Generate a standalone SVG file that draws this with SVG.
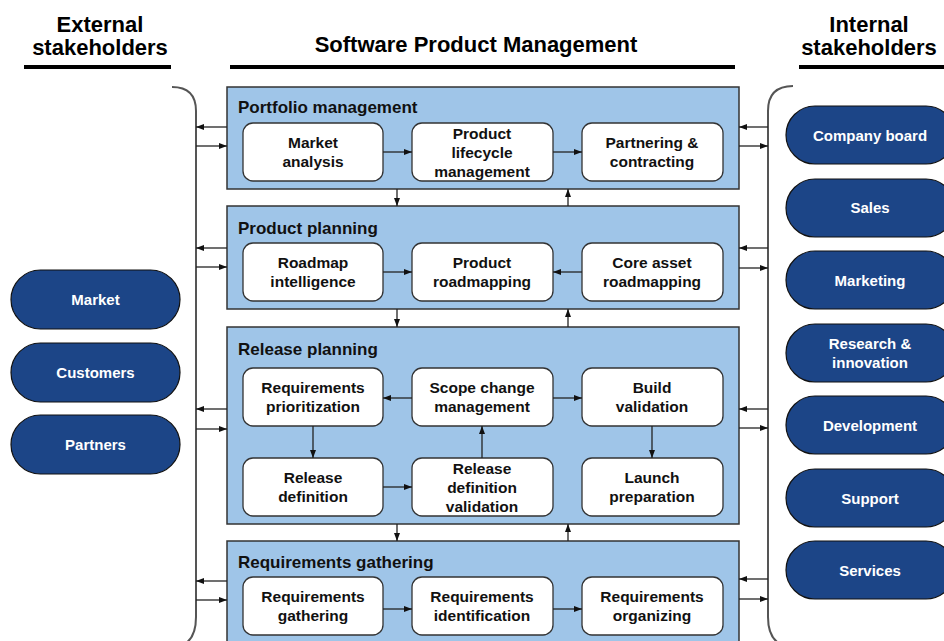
<svg xmlns="http://www.w3.org/2000/svg" width="944" height="641" viewBox="0 0 944 641">
<defs>
<marker id="ah" viewBox="0 0 8 6" refX="8" refY="3" markerWidth="8" markerHeight="6" markerUnits="userSpaceOnUse" orient="auto">
<path d="M0,0 L8,3 L0,6 z" fill="#111"/>
</marker>
</defs>
<style>
text{font-family:"Liberation Sans",Arial,sans-serif;font-weight:bold;text-anchor:middle}
.hd{font-size:22px;fill:#000}
.rule{stroke:#000;stroke-width:4}
.brk{fill:none;stroke:#555;stroke-width:2}
.sec{fill:#9fc5e8;stroke:#333;stroke-width:1.5}
.st{font-size:17px;fill:#111;text-anchor:start}
.box{fill:#fff;stroke:#333;stroke-width:1.3}
.bt{font-size:15.5px;fill:#111}
.pill{fill:#1c4587;stroke:#111;stroke-width:1.2}
.pt{font-size:15px;fill:#fff}
.c line,.c path{stroke:#222;stroke-width:1.3;fill:none;marker-end:url(#ah)}
</style>
<rect width="944" height="641" fill="#fff"/>

<g id="headings">
<text class="hd" x="100" y="32">External</text>
<text class="hd" x="100" y="55">stakeholders</text>
<line class="rule" x1="24" y1="67" x2="171" y2="67"/>
<text class="hd" x="476" y="52">Software Product Management</text>
<line class="rule" x1="230" y1="67" x2="735" y2="67"/>
<text class="hd" x="869" y="32">Internal</text>
<text class="hd" x="869" y="55">stakeholders</text>
<line class="rule" x1="799" y1="67" x2="944" y2="67"/>
</g>

<g id="brackets">
<path class="brk" d="M172,87 Q196,87 196,111 L196,617 Q196,641 180,646"/>
<path class="brk" d="M793,86 Q768,86 768,111 L768,617 Q768,641 785,646"/>
</g>

<g id="sec-portfolio">
<rect class="sec" x="227" y="87" width="512" height="102"/>
<text class="st" x="238" y="113">Portfolio management</text>
</g>
<g id="sec-planning">
<rect class="sec" x="227" y="206" width="512" height="103"/>
<text class="st" x="238" y="234">Product planning</text>
</g>
<g id="sec-release">
<rect class="sec" x="227" y="327" width="512" height="197"/>
<text class="st" x="238" y="355">Release planning</text>
</g>
<g id="sec-requirements">
<rect class="sec" x="227" y="541" width="512" height="110"/>
<text class="st" x="238" y="568">Requirements gathering</text>
</g>

<g id="market-analysis"><rect class="box" x="243" y="123" width="140" height="58" rx="10"/>
<text class="bt" x="313" y="148">Market</text><text class="bt" x="313" y="167">analysis</text></g>
<g id="product-lifecycle"><rect class="box" x="412" y="123" width="141" height="58" rx="10"/>
<text class="bt" x="482" y="139">Product</text><text class="bt" x="482" y="158">lifecycle</text><text class="bt" x="482" y="177">management</text></g>
<g id="partnering"><rect class="box" x="582" y="123" width="141" height="58" rx="10"/>
<text class="bt" x="652" y="148">Partnering &amp;</text><text class="bt" x="652" y="167">contracting</text></g>

<g id="roadmap-intelligence"><rect class="box" x="243" y="243" width="140" height="58" rx="10"/>
<text class="bt" x="313" y="268">Roadmap</text><text class="bt" x="313" y="287">intelligence</text></g>
<g id="product-roadmapping"><rect class="box" x="412" y="243" width="141" height="58" rx="10"/>
<text class="bt" x="482" y="268">Product</text><text class="bt" x="482" y="287">roadmapping</text></g>
<g id="core-asset"><rect class="box" x="582" y="243" width="141" height="58" rx="10"/>
<text class="bt" x="652" y="268">Core asset</text><text class="bt" x="652" y="287">roadmapping</text></g>

<g id="req-prioritization"><rect class="box" x="243" y="368" width="140" height="58" rx="10"/>
<text class="bt" x="313" y="393">Requirements</text><text class="bt" x="313" y="412">prioritization</text></g>
<g id="scope-change"><rect class="box" x="412" y="368" width="141" height="58" rx="10"/>
<text class="bt" x="482" y="393">Scope change</text><text class="bt" x="482" y="412">management</text></g>
<g id="build-validation"><rect class="box" x="582" y="368" width="141" height="58" rx="10"/>
<text class="bt" x="652" y="393">Build</text><text class="bt" x="652" y="412">validation</text></g>
<g id="release-definition"><rect class="box" x="243" y="458" width="140" height="58" rx="10"/>
<text class="bt" x="313" y="483">Release</text><text class="bt" x="313" y="502">definition</text></g>
<g id="release-def-validation"><rect class="box" x="412" y="458" width="141" height="58" rx="10"/>
<text class="bt" x="482" y="474">Release</text><text class="bt" x="482" y="493">definition</text><text class="bt" x="482" y="512">validation</text></g>
<g id="launch-preparation"><rect class="box" x="582" y="458" width="141" height="58" rx="10"/>
<text class="bt" x="652" y="483">Launch</text><text class="bt" x="652" y="502">preparation</text></g>

<g id="req-gathering"><rect class="box" x="243" y="577" width="140" height="58" rx="10"/>
<text class="bt" x="313" y="602">Requirements</text><text class="bt" x="313" y="621">gathering</text></g>
<g id="req-identification"><rect class="box" x="412" y="577" width="141" height="58" rx="10"/>
<text class="bt" x="482" y="602">Requirements</text><text class="bt" x="482" y="621">identification</text></g>
<g id="req-organizing"><rect class="box" x="582" y="577" width="141" height="58" rx="10"/>
<text class="bt" x="652" y="602">Requirements</text><text class="bt" x="652" y="621">organizing</text></g>

<g id="ext-market"><rect class="pill" x="11" y="270" width="169" height="59" rx="29.5"/><text class="pt" x="95.5" y="305">Market</text></g>
<g id="ext-customers"><rect class="pill" x="11" y="343" width="169" height="59" rx="29.5"/><text class="pt" x="95.5" y="378">Customers</text></g>
<g id="ext-partners"><rect class="pill" x="11" y="415" width="169" height="59" rx="29.5"/><text class="pt" x="95.5" y="450">Partners</text></g>

<g id="int-board"><rect class="pill" x="786" y="106" width="169" height="58" rx="29"/><text class="pt" x="870" y="141">Company board</text></g>
<g id="int-sales"><rect class="pill" x="786" y="179" width="169" height="58" rx="29"/><text class="pt" x="870" y="213">Sales</text></g>
<g id="int-marketing"><rect class="pill" x="786" y="251" width="169" height="58" rx="29"/><text class="pt" x="870" y="286">Marketing</text></g>
<g id="int-research"><rect class="pill" x="786" y="324" width="169" height="58" rx="29"/><text class="pt" x="870" y="349">Research &amp;</text><text class="pt" x="870" y="368">innovation</text></g>
<g id="int-development"><rect class="pill" x="786" y="396" width="169" height="58" rx="29"/><text class="pt" x="870" y="431">Development</text></g>
<g id="int-support"><rect class="pill" x="786" y="469" width="169" height="58" rx="29"/><text class="pt" x="870" y="504">Support</text></g>
<g id="int-services"><rect class="pill" x="786" y="541" width="169" height="58" rx="29"/><text class="pt" x="870" y="576">Services</text></g>

<g id="connectors" class="c">
<line x1="383" y1="152" x2="412" y2="152"/>
<line x1="553" y1="152" x2="582" y2="152"/>
<line x1="383" y1="272" x2="412" y2="272"/>
<line x1="582" y1="272" x2="553" y2="272"/>
<line x1="412" y1="398" x2="383" y2="398"/>
<line x1="553" y1="398" x2="582" y2="398"/>
<line x1="313" y1="426" x2="313" y2="458"/>
<line x1="383" y1="487" x2="412" y2="487"/>
<line x1="482" y1="458" x2="482" y2="426"/>
<line x1="652" y1="426" x2="652" y2="458"/>
<line x1="383" y1="609" x2="412" y2="609"/>
<line x1="553" y1="609" x2="582" y2="609"/>

<line x1="397" y1="189" x2="397" y2="206"/>
<line x1="568" y1="206" x2="568" y2="189"/>
<line x1="397" y1="309" x2="397" y2="327"/>
<line x1="568" y1="327" x2="568" y2="309"/>
<line x1="397" y1="524" x2="397" y2="541"/>
<line x1="568" y1="541" x2="568" y2="524"/>

<line x1="227" y1="127" x2="196" y2="127"/>
<line x1="196" y1="146" x2="227" y2="146"/>
<line x1="227" y1="248" x2="196" y2="248"/>
<line x1="196" y1="267" x2="227" y2="267"/>
<line x1="227" y1="409" x2="196" y2="409"/>
<line x1="196" y1="429" x2="227" y2="429"/>
<line x1="227" y1="581" x2="196" y2="581"/>
<line x1="196" y1="600" x2="227" y2="600"/>

<line x1="768" y1="127" x2="739" y2="127"/>
<line x1="739" y1="146" x2="768" y2="146"/>
<line x1="768" y1="248" x2="739" y2="248"/>
<line x1="739" y1="268" x2="768" y2="268"/>
<line x1="768" y1="409" x2="739" y2="409"/>
<line x1="739" y1="428" x2="768" y2="428"/>
<line x1="768" y1="579" x2="739" y2="579"/>
<line x1="739" y1="599" x2="768" y2="599"/>
</g>
</svg>
